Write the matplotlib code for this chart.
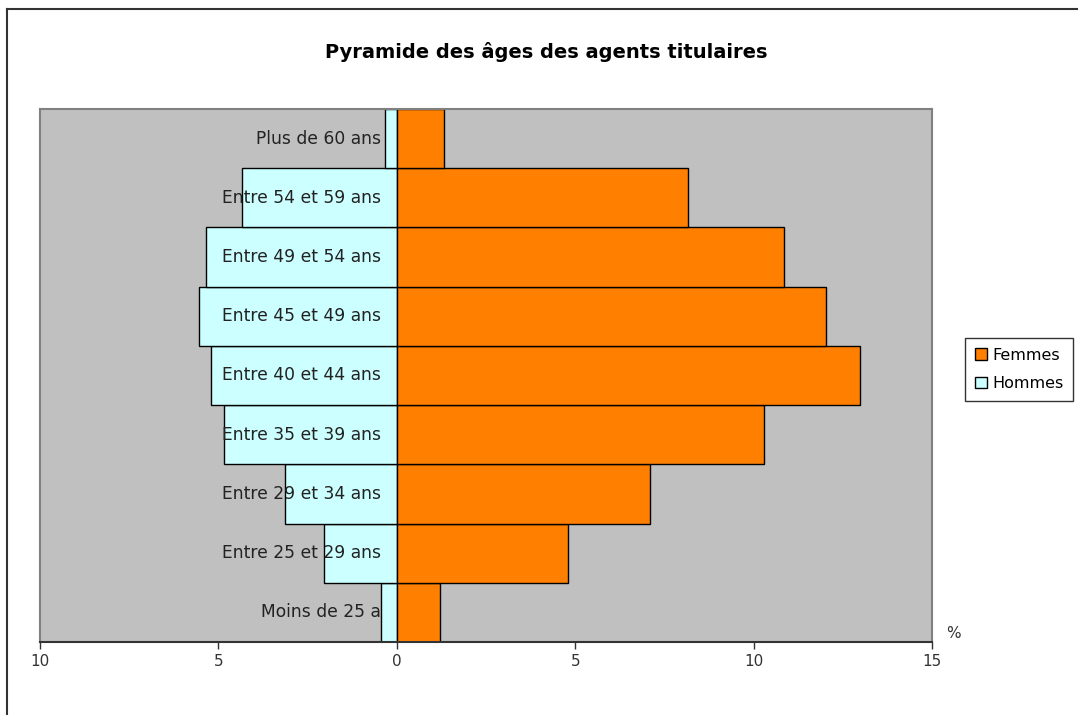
import matplotlib
matplotlib.use("Agg")
import matplotlib.pyplot as plt
from matplotlib.patches import Patch
from matplotlib.lines import Line2D

categories = ["Moins de 25 a", "Entre 25 et 29 ans", "Entre 29 et 34 ans",
              "Entre 35 et 39 ans", "Entre 40 et 44 ans", "Entre 45 et 49 ans",
              "Entre 49 et 54 ans", "Entre 54 et 59 ans", "Plus de 60 ans"]
hommes = [-0.45, -2.04, -3.13, -4.85, -5.21, -5.54, -5.36, -4.35, -0.33]
femmes = [1.22, 4.79, 7.09, 10.28, 12.97, 12.04, 10.84, 8.15, 1.31]
xticks = [-10, -5, 0, 5, 10, 15]
xticklabels = ["10", "5", "0", "5", "10", "15"]

W, H = 1078, 715
fig = plt.figure(figsize=(W / 100, H / 100), dpi=100)
fig.patch.set_facecolor("white")

L, R, T, B = 40, 932, 109, 642
ax = fig.add_axes([L / W, 1 - B / H, (R - L) / W, (B - T) / H])
ax.set_facecolor("#C0C0C0")

y = range(len(categories))
ax.barh(y, hommes, height=1.0, color="#CCFFFF", edgecolor="black", linewidth=1.0, zorder=2)
ax.barh(y, femmes, height=1.0, color="#FF8000", edgecolor="black", linewidth=1.0, zorder=2)

ax.set_xlim(-10, 15)
ax.set_ylim(-0.5, len(categories) - 0.5)
ax.set_xticks(xticks)
ax.set_xticklabels(xticklabels, fontsize=11, color="#333333")
ax.set_yticks([])
ax.tick_params(axis="x", direction="out", length=5, width=1, pad=4, colors="#333333")

for s in ["top", "right", "left"]:
    ax.spines[s].set_color("#808080")
    ax.spines[s].set_linewidth(1.5)
ax.spines["bottom"].set_color("#333333")
ax.spines["bottom"].set_linewidth(1.5)

# category labels at the zero position
for yi, lab in zip(y, categories):
    ax.annotate(lab, xy=(0, yi), xytext=(-16, 0), textcoords="offset pixels",
                ha="right", va="center", fontsize=12.3, color="#222222", zorder=5)

fig.text(546 / W, 1 - 52 / H, "Pyramide des âges des agents titulaires",
         ha="center", va="center", fontsize=14, fontweight="bold", color="black")

fig.text(953 / W, 1 - 634 / H, "%", ha="center", va="center", fontsize=11, color="#333333")

handles = [Patch(facecolor="#FF8000", edgecolor="black", label="Femmes"),
           Patch(facecolor="#CCFFFF", edgecolor="black", label="Hommes")]
leg = fig.legend(handles=handles, loc="upper left",
                 bbox_to_anchor=(965 / W, 1 - 338 / H), frameon=True, fontsize=11.5,
                 handlelength=0.75, handleheight=0.75, handletextpad=0.35,
                 borderpad=0.6, labelspacing=0.85, fancybox=False, borderaxespad=0)
leg.get_frame().set_edgecolor("black")
leg.get_frame().set_linewidth(1.0)

# figure border (left and top edges visible)
fig.add_artist(Line2D([7 / W, 7 / W], [0, 1 - 9 / H], transform=fig.transFigure,
                      color="#333333", linewidth=1.5))
fig.add_artist(Line2D([7 / W, 1], [1 - 9 / H, 1 - 9 / H], transform=fig.transFigure,
                      color="#333333", linewidth=1.5))

fig.savefig("out.png", dpi=100)
